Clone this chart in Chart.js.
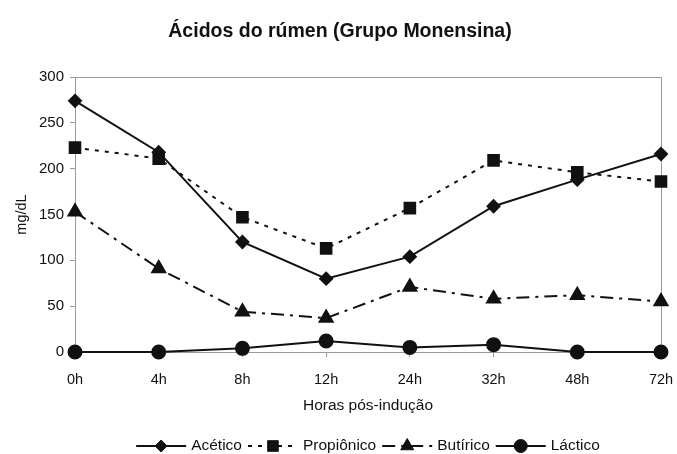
<!DOCTYPE html>
<html>
<head>
<meta charset="utf-8">
<script src="https://cdn.jsdelivr.net/npm/chart.js@4.4.1/dist/chart.umd.min.js"></script>
<style>
  html, body { margin: 0; padding: 0; background: #fff; }
  #wrap { width: 677px; height: 454px; }
</style>
</head>
<body>
<div id="wrap"><canvas id="myChart" width="677" height="454"></canvas></div>
<script>
// data
const labels = ['0h', '4h', '8h', '12h', '24h', '32h', '48h', '72h'];
const acetico    = [274, 218, 120, 80, 104, 159, 188, 216];
const propionico = [223, 211, 147, 113, 157, 209, 196, 186];
const butirico   = [153, 91, 44, 37, 71, 58, 62, 55];
const lactico    = [0, 0, 4, 12, 5, 8, 0, 0];
const yTicks = [0, 50, 100, 150, 200, 250, 300];

const FONT = 'Arial, "Liberation Sans", sans-serif';
const INK = '#111';

const makeChart = () => {
    const data = {
        labels: labels,
        datasets: [{
            label: 'Acético',
            data: acetico,
            borderColor: INK, backgroundColor: INK,
            borderWidth: 2,
            pointStyle: 'rectRot', pointRadius: 6,
        }, {
            label: 'Propiônico',
            data: propionico,
            borderColor: INK, backgroundColor: INK,
            borderWidth: 2, borderDash: [4, 6],
            pointStyle: 'rect', pointRadius: 7.5,
        }, {
            label: 'Butírico',
            data: butirico,
            borderColor: INK, backgroundColor: INK,
            borderWidth: 2, borderDash: [13, 6, 3, 6],
            pointStyle: 'triangle', pointRadius: 7.5,
        }, {
            label: 'Láctico',
            data: lactico,
            borderColor: INK, backgroundColor: INK,
            borderWidth: 2,
            pointStyle: 'circle', pointRadius: 6.5,
        }]
    };

    // frame, title and the line+marker legend
    const decor = {
        id: 'decor',
        beforeDatasetsDraw(chart) {
            const {ctx, chartArea: a} = chart;
            ctx.save();
            ctx.strokeStyle = '#9a9a9a';
            ctx.lineWidth = 1;
            ctx.strokeRect(a.left + 0.5, a.top + 0.5, a.right - a.left, a.bottom - a.top);
            ctx.restore();
        },
        afterDraw(chart) {
            const {ctx} = chart;
            ctx.save();
            ctx.fillStyle = INK;
            ctx.font = 'bold 19.5px ' + FONT;
            ctx.textAlign = 'center';
            ctx.textBaseline = 'middle';
            ctx.fillText('Ácidos do rúmen (Grupo Monensina)', 340, 32);

            // legend
            ctx.font = '15.5px ' + FONT;
            ctx.textAlign = 'left';
            const lineW = 50, gap = 5, space = 6, y = 446;
            const items = chart.data.datasets.map(ds => ({ds, w: lineW + gap + ctx.measureText(ds.label).width}));
            const total = items.reduce((s, it) => s + it.w, 0) + space * (items.length - 1);
            let x = 368 - total / 2;
            items.forEach(({ds, w}) => {
                ctx.strokeStyle = INK;
                ctx.fillStyle = INK;
                ctx.lineWidth = 2;
                ctx.setLineDash(ds.borderDash || []);
                ctx.beginPath();
                ctx.moveTo(x, y);
                ctx.lineTo(x + lineW, y);
                ctx.stroke();
                ctx.setLineDash([]);
                ctx.lineWidth = 1;
                Chart.helpers.drawPoint(ctx, {pointStyle: ds.pointStyle, radius: ds.pointRadius, rotation: 0, borderWidth: 1},
                    x + lineW / 2, y);
                ctx.fillText(ds.label, x + lineW + gap, y);
                x += w + space;
            });
            ctx.restore();
        }
    };

    const config = {
        type: 'line',
        data,
        plugins: [decor],
        options: {
            responsive: false,
            animation: false,
            layout: { autoPadding: false, padding: { left: 8, right: 16, top: 77, bottom: 39 } },
            plugins: { legend: { display: false }, title: { display: false }, tooltip: { enabled: false } },
            elements: { line: { tension: 0 }, point: { borderWidth: 1 } },
            datasets: { line: { clip: false } },
            scales: {
                x: {
                    offset: false,
                    grid: { display: true, drawOnChartArea: false, drawTicks: true, tickLength: 5, color: '#9a9a9a' },
                    border: { color: '#9a9a9a' },
                    ticks: { color: INK, font: { family: FONT, size: 14.5 }, padding: 14, maxRotation: 0 },
                    title: { display: true, text: 'Horas pós-indução', color: INK, font: { family: FONT, size: 15.5 }, padding: 0 },
                    afterFit(s) { s.height = 63; s.paddingRight = 0; }
                },
                y: {
                    min: 0, max: 300,
                    afterBuildTicks(s) { s.ticks = yTicks.map(v => ({value: v})); },
                    grid: { display: true, drawOnChartArea: false, drawTicks: true, tickLength: 5, color: '#9a9a9a' },
                    border: { color: '#9a9a9a' },
                    ticks: { color: INK, font: { family: FONT, size: 15 }, padding: 6 },
                    title: { display: true, text: 'mg/dL', color: INK, font: { family: FONT, size: 14.5 }, padding: { top: 5, bottom: 0 } },
                    afterFit(s) { s.width = 67; }
                }
            }
        }
    };

    let myChart = new Chart('myChart', config);
};

makeChart();
</script>
</body>
</html>
